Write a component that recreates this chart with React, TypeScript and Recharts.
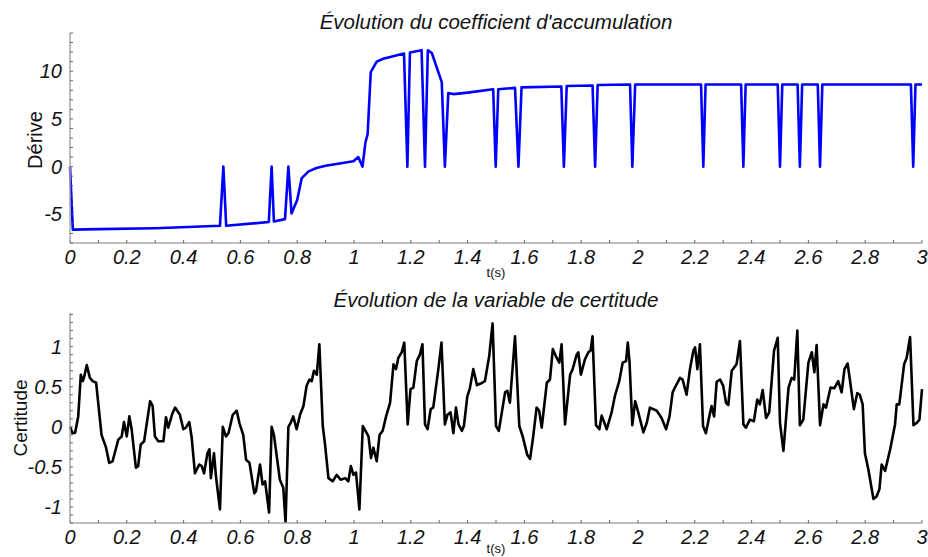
import { LineChart, Line, XAxis, YAxis } from "recharts";

// coefficient d'accumulation (Dérive)
const deriveT = [
  0, 0.01, 0.1, 0.3, 0.528, 0.54, 0.55, 0.7, 0.71, 0.718, 0.757, 0.769, 0.78, 0.8, 0.816, 0.84,
  0.868, 0.9, 0.998, 1.015, 1.03, 1.04, 1.048, 1.059, 1.08, 1.103, 1.176, 1.188, 1.197, 1.238,
  1.25, 1.26, 1.274, 1.309, 1.32, 1.332, 1.35, 1.4, 1.49, 1.499, 1.508, 1.567, 1.579, 1.59, 1.73,
  1.739, 1.749, 1.84, 1.849, 1.858, 1.972, 1.98, 1.99, 2.222, 2.23, 2.238, 2.363, 2.371, 2.379,
  2.492, 2.5, 2.508, 2.562, 2.57, 2.578, 2.633, 2.641, 2.649, 2.961, 2.969, 2.977, 3,
];
const deriveV = [
  0, -6.6, -6.55, -6.45, -6.2, 0, -6.2, -5.8, 0, -5.75, -5.5, 0, -4.9, -3.5, -1.2, -0.5,
  -0.15, 0.1, 0.56, 1.0, 0, 2.5, 3.4, 9.9, 11.0, 11.3, 11.85, 0, 11.95, 12.2,
  0, 12.2, 11.9, 8.85, 0, 7.7, 7.6, 7.75, 8.1, 0, 8.1, 8.25, 0, 8.3, 8.4,
  0, 8.45, 8.5, 0, 8.55, 8.6, 0, 8.6, 8.6, 0, 8.6, 8.6, 0, 8.6,
  8.6, 0, 8.6, 8.6, 0, 8.6, 8.6, 0, 8.6, 8.6, 0, 8.6, 8.6,
];

// variable de certitude
const certT = [
  0, 0.009, 0.018, 0.029, 0.038, 0.045, 0.049, 0.059, 0.07, 0.08, 0.092, 0.111, 0.127, 0.138, 0.15,
  0.17, 0.182, 0.19, 0.2, 0.209, 0.217, 0.232, 0.24, 0.249, 0.261, 0.282, 0.291, 0.299, 0.311, 0.329,
  0.338, 0.346, 0.361, 0.37, 0.387, 0.399, 0.408, 0.42, 0.428, 0.44, 0.455, 0.464, 0.472, 0.484,
  0.491, 0.496, 0.507, 0.514, 0.528, 0.538, 0.549, 0.558, 0.573, 0.587, 0.597, 0.61, 0.62, 0.632,
  0.649, 0.655, 0.669, 0.678, 0.687, 0.701, 0.71, 0.718, 0.739, 0.751, 0.759, 0.769, 0.777, 0.786,
  0.798, 0.81, 0.822, 0.833, 0.843, 0.851, 0.859, 0.869, 0.878, 0.89, 0.898, 0.91, 0.925, 0.939,
  0.953, 0.969, 0.98, 0.989, 0.998, 1.007, 1.019, 1.031, 1.045, 1.051, 1.06, 1.068, 1.08, 1.09,
  1.101, 1.113, 1.127, 1.139, 1.148, 1.156, 1.168, 1.177, 1.189, 1.199, 1.209, 1.221, 1.232, 1.241,
  1.25, 1.259, 1.27, 1.279, 1.297, 1.308, 1.32, 1.329, 1.34, 1.35, 1.359, 1.368, 1.38, 1.387, 1.399,
  1.408, 1.42, 1.433, 1.446, 1.461, 1.476, 1.488, 1.5, 1.51, 1.532, 1.54, 1.549, 1.567, 1.582, 1.594,
  1.61, 1.62, 1.631, 1.643, 1.652, 1.661, 1.679, 1.69, 1.7, 1.711, 1.723, 1.731, 1.743, 1.761, 1.77,
  1.784, 1.79, 1.799, 1.813, 1.825, 1.833, 1.84, 1.852, 1.864, 1.872, 1.89, 1.907, 1.919, 1.934,
  1.946, 1.958, 1.964, 1.97, 1.98, 1.99, 2.001, 2.019, 2.031, 2.042, 2.066, 2.083, 2.099, 2.111,
  2.122, 2.13, 2.148, 2.157, 2.171, 2.183, 2.195, 2.201, 2.209, 2.218, 2.229, 2.239, 2.251, 2.259,
  2.268, 2.277, 2.289, 2.3, 2.31, 2.318, 2.33, 2.347, 2.359, 2.371, 2.38, 2.394, 2.408, 2.42, 2.429,
  2.439, 2.451, 2.462, 2.479, 2.492, 2.5, 2.512, 2.53, 2.541, 2.55, 2.561, 2.57, 2.582, 2.6, 2.612,
  2.621, 2.629, 2.641, 2.653, 2.662, 2.678, 2.691, 2.705, 2.717, 2.727, 2.738, 2.746, 2.76, 2.772,
  2.781, 2.791, 2.799, 2.811, 2.829, 2.84, 2.85, 2.858, 2.87, 2.888, 2.905, 2.911, 2.92, 2.937,
  2.946, 2.958, 2.97, 2.982, 2.991, 3.0,
];
const certV = [
  0, -0.08, -0.075, 0.13, 0.65, 0.57, 0.61, 0.77, 0.61, 0.57, 0.55, -0.1, -0.26, -0.45, -0.43,
  -0.16, -0.12, 0.06, -0.12, 0.13, -0.03, -0.51, -0.49, -0.22, -0.18, 0.32, 0.26, -0.12, -0.18, -0.18,
  0.12, -0.01, 0.17, 0.24, 0.15, -0.03, -0.01, 0.06, -0.12, -0.58, -0.47, -0.49, -0.58, -0.33,
  -0.28, -0.64, -0.33, -0.62, -1.03, 0.0, -0.12, -0.08, 0.15, 0.2, 0.04, -0.1, -0.41, -0.45,
  -0.83, -0.8, -0.47, -0.72, -0.68, -1.07, 0.0, -0.1, -0.66, -0.76, -1.2, 0.0, 0.05, 0.13,
  -0.03, 0.15, 0.26, 0.51, 0.59, 0.57, 0.7, 0.65, 1.03, 0.01, -0.22, -0.64, -0.68, -0.6,
  -0.66, -0.64, -0.68, -0.49, -0.6, -0.57, -1.03, 0.01, -0.08, -0.12, -0.39, -0.26, -0.43, -0.1,
  -0.05, 0.13, 0.3, 0.78, 0.72, 0.86, 0.93, 1.05, 0.03, 0.47, 0.49, 0.82, 0.9, 1.03,
  0.03, -0.03, 0.22, 0.24, 0.72, 1.05, 0.03, 0.15, 0.18, -0.08, 0.24, 0.03, -0.05, 0.01, 0.38,
  0.48, 0.72, 0.52, 0.54, 0.57, 0.88, 1.29, 0.01, -0.05, 0.43, 0.45, 0.3, 1.13, 0.01, -0.12,
  -0.35, -0.4, -0.12, 0.24, 0.2, -0.01, 0.55, 0.59, 0.97, 0.88, 0.8, 1.03, 0.03, 0.65, 0.72,
  0.9, 0.93, 0.65, 0.84, 0.93, 0.95, 1.13, 0.02, -0.03, 0.14, -0.03, 0.18, 0.39, 0.57,
  0.8, 0.82, 1.05, 0.82, 0.02, 0.32, 0.18, -0.07, 0.05, 0.24, 0.2, 0.11, -0.03, 0.13,
  0.43, 0.49, 0.61, 0.59, 0.4, 0.72, 0.95, 0.99, 0.72, 1.03, 0.01, -0.08, 0.13, 0.26,
  0.13, 0.56, 0.59, 0.51, 0.3, 0.27, 0.7, 0.78, 1.07, 0.03, -0.01, 0.09, 0.07, 0.34, 0.28,
  0.46, 0.11, 0.18, 0.95, 1.11, 0.05, -0.3, 0.49, 0.61, 0.59, 1.2, 0.02, 0.09, 0.8, 0.93,
  0.68, 1.02, 0.02, 0.28, 0.24, 0.49, 0.48, 0.57, 0.43, 0.72, 0.79, 0.59, 0.22, 0.42,
  0.4, 0.28, -0.33, -0.53, -0.9, -0.87, -0.78, -0.47, -0.55, -0.28, 0.03, 0.28, 0.28, 0.78,
  0.86, 1.12, 0.02, 0.05, 0.09, 0.47,
];

const timeTicks = [
  0, 0.1, 0.2, 0.3, 0.4, 0.5, 0.6, 0.7, 0.8, 0.9, 1, 1.1, 1.2, 1.3, 1.4, 1.5, 1.6, 1.7, 1.8, 1.9,
  2, 2.1, 2.2, 2.3, 2.4, 2.5, 2.6, 2.7, 2.8, 2.9, 3,
];
const deriveTicks = [-8, -7, -6, -5, -4, -3, -2, -1, 0, 1, 2, 3, 4, 5, 6, 7, 8, 9, 10, 11, 12, 13, 14];
const certTicks = [-1.2, -1.1, -1, -0.9, -0.8, -0.7, -0.6, -0.5, -0.4, -0.3, -0.2, -0.1, 0, 0.1, 0.2, 0.3, 0.4, 0.5, 0.6, 0.7, 0.8, 0.9, 1, 1.1, 1.2, 1.3, 1.4];
const deriveLabels = [-5, 0, 5, 10];
const certLabels = [-1, -0.5, 0, 0.5, 1];

const deriveData = deriveT.map((t, i) => ({ t, v: deriveV[i] }));
const certData = certT.map((t, i) => ({ t, v: certV[i] }));

const tickStyle = { fill: "#111", fontSize: 20, fontStyle: "italic" };
const axisStyle = { stroke: "#a8a8a8", strokeWidth: 1.5 };
const tickLineStyle = { stroke: "#666" };

const fmtTime = (v: number) => (Math.round(v * 10) % 2 === 0 ? String(Number(v.toFixed(1))) : "");
const fmtFrom = (labels: number[]) => (v: number) =>
  labels.some((l) => Math.abs(l - v) < 1e-6) ? String(Number(v.toFixed(1))) : "";

function Panel({ data, domain, ticks, labels, color, height, top }: any) {
  return (
    <div style={{ position: "absolute", left: 0, top }}>
      <LineChart width={928} height={height} data={data} margin={{ top: 33, right: 6, bottom: 0, left: 0 }}>
        <XAxis
          type="number"
          dataKey="t"
          domain={[0, 3]}
          ticks={timeTicks}
          interval={0}
          tickFormatter={fmtTime}
          tickSize={-3}
          tickMargin={10}
          height={height - 33 - 210}
          tick={tickStyle}
          tickLine={tickLineStyle}
          axisLine={axisStyle}
        />
        <YAxis
          type="number"
          domain={domain}
          allowDataOverflow
          ticks={ticks}
          interval={0}
          tickFormatter={fmtFrom(labels)}
          tickSize={-3}
          tickMargin={11}
          width={70}
          tick={tickStyle}
          tickLine={tickLineStyle}
          axisLine={axisStyle}
        />
        <Line
          type="linear"
          dataKey="v"
          stroke={color}
          strokeWidth={2.6}
          strokeLinejoin="round"
          dot={false}
          isAnimationActive={false}
        />
      </LineChart>
    </div>
  );
}

export default function App() {
  return (
    <div
      style={{
        position: "absolute",
        left: 0,
        top: 0,
        width: 928,
        height: 557,
        overflow: "hidden",
        background: "#fff",
        fontFamily: "'Liberation Sans', Arial, sans-serif",
      }}
    >
      <Panel data={deriveData} domain={[-8, 14]} ticks={deriveTicks} labels={deriveLabels} color="#0000ff" height={284} top={0} />
      <Panel data={certData} domain={[-1.2, 1.42]} ticks={certTicks} labels={certLabels} color="#000000" height={277} top={280} />
      <svg width={928} height={557} style={{ position: "absolute", left: 0, top: 0, pointerEvents: "none" }}>
        <g fontFamily="'Liberation Sans', Arial, sans-serif" fill="#111">
          <text x={496} y={29} fontSize={20.5} fontStyle="italic" textAnchor="middle">
            Évolution du coefficient d'accumulation
          </text>
          <text x={496} y={307} fontSize={20.5} fontStyle="italic" textAnchor="middle">
            Évolution de la variable de certitude
          </text>
          <text x={42} y={140} fontSize={20} textAnchor="middle" transform="rotate(-90 42 140)">
            Dérive
          </text>
          <text x={27} y={418} fontSize={19} textAnchor="middle" transform="rotate(-90 27 418)">
            Certitude
          </text>
          <text x={496} y={277} fontSize={13} textAnchor="middle">
            t(s)
          </text>
          <text x={496} y={553} fontSize={13} textAnchor="middle">
            t(s)
          </text>
        </g>
      </svg>
    </div>
  );
}
